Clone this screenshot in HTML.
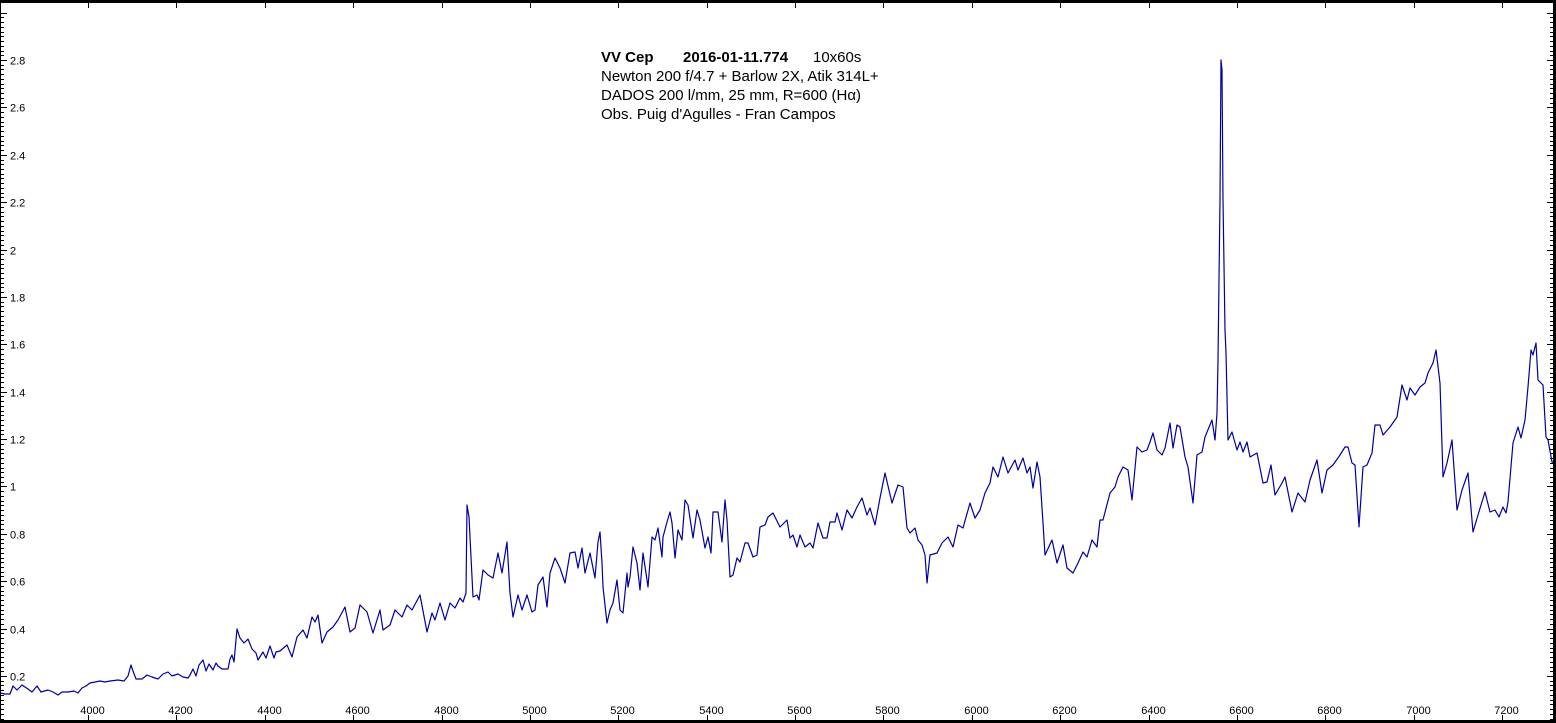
<!DOCTYPE html>
<html><head><meta charset="utf-8"><style>
html,body{margin:0;padding:0;background:#fff;}
svg{display:block;}
text{font-family:"Liberation Sans",sans-serif;}
</style></head><body>
<svg id="c" width="1556" height="723" xmlns="http://www.w3.org/2000/svg">
<rect width="1556" height="723" fill="#fff"/>
<g id="ax" stroke="#000" stroke-width="1"></g>
<g font-size="15" fill="#000">
<text x="601" y="62" font-weight="bold">VV Cep</text>
<text x="683" y="62" font-weight="bold">2016-01-11.774</text>
<text x="813" y="62">10x60s</text>
<text x="601" y="81">Newton 200 f/4.7 + Barlow 2X, Atik 314L+</text>
<text x="601" y="100">DADOS 200 l/mm, 25 mm, R=600 (Hα)</text>
<text x="601" y="119">Obs. Puig d'Agulles - Fran Campos</text>
</g>
<polyline fill="none" stroke="#0000a0" stroke-width="1.2" stroke-linejoin="round" points="
0,693 5,694 10,694 13,686 17,690 22,685 28,689 32,692 37,686 41,692 48,690 53,692 58,695 62,692 68,692 74,691 78,693 82,688 86,686 90,683 95,682 100,681 105,682 110,681 118,680 124,681 128,676 131,665 133,671 136,679 142,679 147,675 152,677 158,679 163,674 168,672 172,676 178,674 183,677 188,678 190,675 193,669 196,676 199,665 203,660 206,671 209,664 213,670 216,663 218,666 222,669 228,669 230,659 232,655 234,662 237,629 240,638 244,643 248,639 252,649 256,653 258,660 263,652 266,658 270,646 274,658 276,652 280,651
287,645 292,657 297,637 303,630 307,638 312,617 315,622 318,615 322,643 327,632 333,627 338,620 345,607 350,632 355,628 360,605 367,612 373,633 380,610 383,630 390,625 395,610 402,617 407,605 412,610 420,595 427,632 432,613 435,620 440,603 445,620 450,603 455,608 460,598 463,602 466,593 467,505 469,517 472,577 473,597 477,595 479,600 483,570 488,575 493,578 498,553 502,573 507,542 510,593 513,617 518,595 522,610 527,595 532,612 535,610 538,585 543,577 547,607 550,573 555,558 560,568 565,583 570,553 575,552 578,568 582,548 585,573 590,553 595,578 598,542 600,532
602,563 603,587 607,623 610,610 613,603 617,580 620,610 623,613 627,573 628,587 630,577 633,547 637,563 640,590 643,553 647,580 648,587 652,537 655,540 658,528 662,557 663,537 667,522 670,512 672,523 675,558 678,530 682,540 685,500 688,505 693,538 697,510 700,520
705,548 708,537 711,553 713,512 718,512 722,542 725,500 727,520 730,577 733,575 737,558 740,562 745,543 748,543 753,557 757,555 760,527 765,525 768,517 773,513 780,527 787,520 790,538 793,535 797,547 800,535 805,547 810,543 813,548 818,523 823,538 827,538 830,522 835,522 837,513 842,530 847,510 852,518 857,507 862,498 867,515 870,508 875,525 880,498 885,473 892,503 898,485 903,487 907,528 910,533 915,528 918,540 922,545 925,555 927,583 930,555 937,553 942,543 948,537 953,547 958,525 963,528 970,503 975,518 980,510 985,493 990,483 993,467 998,477 1003,457 1008,473 1015,460 1018,470 1023,458 1027,473 1030,467 1033,488 1037,462 1040,477 1043,523 1045,555 1052,540 1057,563 1063,545 1067,568 1073,573 1078,563 1083,552 1087,557 1092,540 1097,547 1100,520
1103,520 1110,493 1115,487 1118,477 1123,467 1128,470 1132,500 1137,447 1142,452 1147,450 1150,442 1153,433 1157,450 1162,455 1165,448 1170,423 1173,448 1177,425 1180,427 1185,457 1188,467 1193,503 1197,455 1202,452 1205,437 1212,420 1215,440 1217,413 1218,360 1220,200 1221,60 1222,70 1223,200 1225,330 1226,353 1228,440 1232,432 1237,450 1240,442 1243,452 1247,442 1250,457 1257,453 1263,483 1267,482 1271,465 1275,495 1282,483 1285,477 1292,512 1298,493 1305,502 1310,480 1317,460 1322,493 1327,470 1333,465 1340,455 1345,447 1348,447 1352,463 1355,465 1359,527 1363,467 1367,465 1372,453 1375,425 1380,425 1383,435 1390,427 1397,417 1402,385 1407,400 1410,388 1415,395 1420,387 1425,383 1428,373 1433,363 1436,350 1440,383 1443,477 1447,463 1452,440 1457,510 1462,490 1468,473 1473,532 1478,515 1485,492 1490,512 1495,510 1499,517 1503,507 1506,513 1508,502 1513,443 1518,427 1521,438 1525,420 1528,387 1531,350 1533,355 1536,343 1538,380 1543,385 1546,437 1548,440 1552,462 1555,463"/>
<rect x="0" y="0" width="1556" height="3" fill="#000"/>
<rect x="0" y="720" width="1556" height="3" fill="#000"/>
<rect x="0" y="0" width="1" height="723" fill="#000"/>
<rect x="1553" y="0" width="3" height="723" fill="#000"/>
<g id="lb" font-size="11" fill="#000"></g>
</svg>
<script>
var ax=document.getElementById('ax'),lb=document.getElementById('lb'),ns='http://www.w3.org/2000/svg';
function ln(x1,y1,x2,y2){var l=document.createElementNS(ns,'line');l.setAttribute('x1',x1);l.setAttribute('y1',y1);l.setAttribute('x2',x2);l.setAttribute('y2',y2);ax.appendChild(l);}
function tx(x,y,s,a){var t=document.createElementNS(ns,'text');t.setAttribute('x',x);t.setAttribute('y',y);if(a)t.setAttribute('text-anchor',a);t.textContent=s;lb.appendChild(t);}
function Y(v){return 676-(v-0.2)*236.92;}
for(var i=0;i<=150;i++){var v=i*0.02,y=Math.round(Y(v))+0.5;if(y<3||y>720)continue;
 var maj=(i%10==0);var L=maj?6:3;ln(0,y,1+L,y);ln(1553-L,y,1553,y);
 if(maj&&v>0.1&&v<2.9){var s=(Math.round(v*10)/10).toString();tx(10,y+4,s);}}
function X(w){return 88+(w-4000)*0.441875;}
for(var w=3800;w<=7400;w+=200){var x=Math.round(X(w))+0.5;if(x<2||x>1553)continue;ln(x,3,x,8);ln(x,715,x,720);tx(x+4,714,String(w),'middle');}
</script>
</body></html>
